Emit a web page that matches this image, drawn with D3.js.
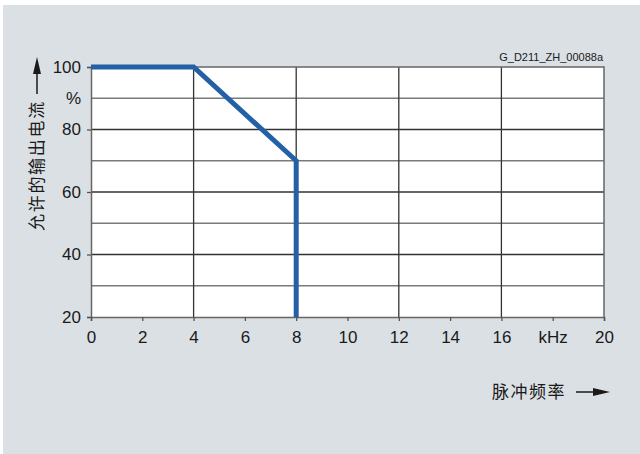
<!DOCTYPE html>
<html>
<head>
<meta charset="utf-8">
<script src="https://cdn.jsdelivr.net/npm/d3@7"></script>
<style>
  body { margin: 0; background: #fff; }
  text { font-family: "Liberation Sans", Arial, sans-serif; fill: #1a1a1a; }
  .cjk { font-family: "Noto Sans CJK SC", sans-serif; }
</style>
</head>
<body>
<div id="chart"></div>
<script>
// derating curve: permitted output current vs pulse frequency
var freq = [0, 4, 8, 8];
var current = [100, 100, 70, 20];

var xTicks = [0, 2, 4, 6, 8, 10, 12, 14, 16, 18, 20];
var xGrid = [4, 8, 12, 16];
var yTicks = [20, 40, 60, 80, 100];
var yGrid = [30, 40, 50, 60, 70, 80, 90];

var W = 640, H = 454;
var plotL = 91, plotR = 604, plotT = 67, plotB = 317;

var svg = d3.select("#chart").append("svg")
    .attr("width", W)
    .attr("height", H);

svg.append("rect")
    .attr("x", 3).attr("y", 5)
    .attr("width", W - 3).attr("height", H - 5)
    .attr("fill", "#dbe0e4");

var x = d3.scaleLinear().domain([0, 20]).range([plotL, plotR]);
var y = d3.scaleLinear().domain([20, 100]).range([plotB, plotT]);

svg.append("rect")
    .attr("x", x(0)).attr("y", y(100))
    .attr("width", x(20) - x(0)).attr("height", y(20) - y(100))
    .attr("fill", "#fff");

// grid
svg.selectAll(".hgrid")
    .data(yGrid)
    .enter().append("line")
    .attr("x1", x(0)).attr("x2", x(20))
    .attr("y1", function (d) { return y(d); })
    .attr("y2", function (d) { return y(d); })
    .attr("stroke", function (d) { return d % 20 ? "#7a7a7a" : "#333"; })
    .attr("stroke-width", 1.3);

svg.selectAll(".vgrid")
    .data(xGrid)
    .enter().append("line")
    .attr("y1", y(20)).attr("y2", y(100))
    .attr("x1", function (d) { return x(d); })
    .attr("x2", function (d) { return x(d); })
    .attr("stroke", "#333")
    .attr("stroke-width", 1.3);

// frame top / right
svg.append("path")
    .attr("d", "M" + x(0) + "," + y(100) + "H" + x(20) + "V" + y(20))
    .attr("fill", "none")
    .attr("stroke", "#666")
    .attr("stroke-width", 1.5);

// axes
var yAxis = svg.append("g")
    .attr("transform", "translate(" + plotL + ",0)")
    .call(d3.axisLeft(y).tickValues(yTicks).tickSize(4).tickPadding(6));

var xAxis = svg.append("g")
    .attr("transform", "translate(0," + plotB + ")")
    .call(d3.axisBottom(x).tickValues(xTicks).tickSize(4).tickPadding(10)
        .tickFormat(function (d) { return d === 18 ? "kHz" : d; }));

[yAxis, xAxis].forEach(function (a) {
    a.select(".domain").attr("stroke", "#666").attr("stroke-width", 1.5);
    a.selectAll(".tick line").attr("stroke", "#555").attr("stroke-width", 1.3);
    a.selectAll("text")
        .attr("fill", "#1a1a1a")
        .style("font-size", "17px")
        .style("font-family", "'Liberation Sans', Arial, sans-serif");
});

svg.append("text")
    .attr("x", plotL - 10)
    .attr("y", y(90))
    .attr("dy", "0.32em")
    .attr("text-anchor", "end")
    .style("font-size", "17px")
    .text("%");

// curve
svg.append("path")
    .datum(freq.map(function (f, i) { return [f, current[i]]; }))
    .attr("d", d3.line()
        .x(function (d) { return x(d[0]); })
        .y(function (d) { return y(d[1]); }))
    .attr("fill", "none")
    .attr("stroke", "#2360a5")
    .attr("stroke-width", 5)
    .attr("stroke-linejoin", "miter");

// drawing id
svg.append("text")
    .attr("x", plotR - 1)
    .attr("y", 61)
    .attr("text-anchor", "end")
    .style("font-size", "11px")
    .text("G_D211_ZH_00088a");

// y title with arrow
svg.append("line")
    .attr("x1", 37).attr("x2", 37)
    .attr("y1", 70).attr("y2", 94)
    .attr("stroke", "#1a1a1a").attr("stroke-width", 1.5);
svg.append("path")
    .attr("d", "M37,57L41,74L33,74Z")
    .attr("fill", "#1a1a1a");
svg.append("text")
    .attr("class", "cjk")
    .attr("transform", "translate(43,231) rotate(-90)")
    .style("font-size", "17px")
    .style("letter-spacing", "1.7px")
    .text("允许的输出电流");

// x title with arrow
svg.append("text")
    .attr("class", "cjk")
    .attr("x", 492)
    .attr("y", 398)
    .style("font-size", "17px")
    .style("letter-spacing", "1.5px")
    .text("脉冲频率");
svg.append("line")
    .attr("x1", 576).attr("x2", 596)
    .attr("y1", 392).attr("y2", 392)
    .attr("stroke", "#1a1a1a").attr("stroke-width", 1.5);
svg.append("path")
    .attr("d", "M610,392L593,388L593,396Z")
    .attr("fill", "#1a1a1a");
</script>
</body>
</html>
